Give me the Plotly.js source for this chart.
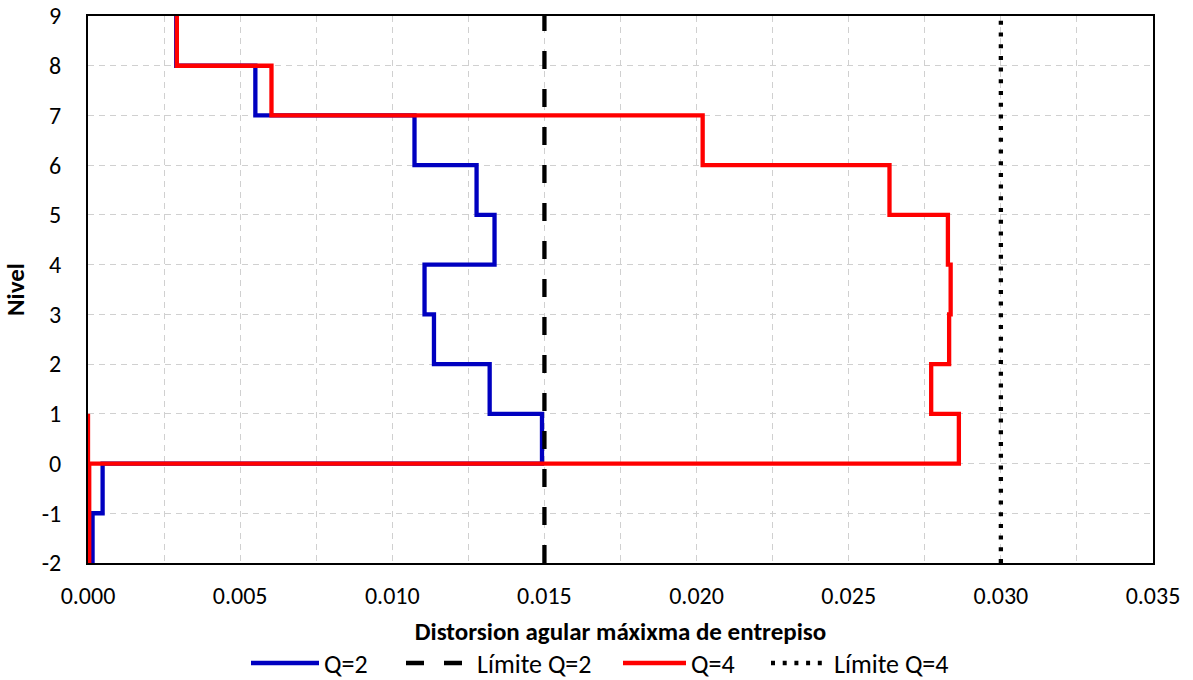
<!DOCTYPE html>
<html>
<head>
<meta charset="utf-8">
<script src="https://cdn.plot.ly/plotly-3.0.1.min.js"></script>
<style>html,body{margin:0;padding:0;background:#fff;}#chart{width:1193px;height:680px;}</style>
</head>
<body>
<div id="chart"></div>
<script>
// Step profile: levels and drifts (each storey drawn between two levels)
const levelsQ2 = [9, 8, 8, 7, 7, 6, 6, 5, 5, 4, 4, 3, 3, 2, 2, 1, 1, 0, 0, -1, -1, -2];
const driftQ2  = [0.0029, 0.0029, 0.0055, 0.0055, 0.01073, 0.01073, 0.01277, 0.01277, 0.01336, 0.01336, 0.01106, 0.01106, 0.01137, 0.01137, 0.0132, 0.0132, 0.01492, 0.01492, 0.00048, 0.00048, 0.00015, 0.00015];

const levelsQ4 = [9, 8, 8, 7, 7, 6, 6, 5, 5, 4, 4, 3, 3, 2, 2, 1, 1, 0, 0, -1, -1, -2, null, 0, 1];
const driftQ4  = [0.00292, 0.00292, 0.00603, 0.00603, 0.0202, 0.0202, 0.02634, 0.02634, 0.02826, 0.02826, 0.02835, 0.02835, 0.0283, 0.0283, 0.02771, 0.02771, 0.02862, 0.02862, 0.00004, 0.00004, 0.00004, 0.00004, null, 0.0, 0.0];

const limitLevels = [-2, 9];
const limitQ2 = [0.015, 0.015];
const limitQ4 = [0.030, 0.030];

const xTickVals = [0, 0.005, 0.01, 0.015, 0.02, 0.025, 0.03, 0.035];
const xTickText = ['0.000', '0.005', '0.010', '0.015', '0.020', '0.025', '0.030', '0.035'];
const yTickVals = [-2, -1, 0, 1, 2, 3, 4, 5, 6, 7, 8, 9];
const yTickText = ['-2', '-1', '0', '1', '2', '3', '4', '5', '6', '7', '8', '9'];

const FONT = 'Carlito, Lato, "Open Sans", sans-serif';
const LEGFONT = {family: FONT, size: 26, color: '#000'};
const LEGY = -0.183;

const traces = [
  {x: driftQ2, y: levelsQ2, mode: 'lines', name: 'Q=2', legend: 'legend', line: {color: '#0000C0', width: 4.3}},
  {x: limitQ2, y: limitLevels, mode: 'lines', name: 'Límite Q=2', legend: 'legend2', line: {color: '#000000', width: 4.3, dash: '18px,20px'}},
  {x: driftQ4, y: levelsQ4, mode: 'lines', name: 'Q=4', legend: 'legend3', line: {color: '#FF0000', width: 4.3}, connectgaps: false},
  {x: limitQ4, y: limitLevels, mode: 'lines', name: 'Límite Q=4', legend: 'legend4', line: {color: '#000000', width: 4.3, dash: '4px,7.7px'}}
];

function leg(xpx, w) {
  return {orientation: 'h', x: (xpx - 88) / 1065, xanchor: 'left', y: LEGY, yanchor: 'middle',
          font: LEGFONT, itemwidth: w, bgcolor: 'rgba(0,0,0,0)', borderwidth: 0};
}

const layout = {
  width: 1193, height: 680,
  margin: {l: 88, r: 40, t: 16, b: 117, autoexpand: false},
  paper_bgcolor: '#ffffff', plot_bgcolor: '#ffffff',
  font: {family: FONT, size: 24, color: '#000'},
  showlegend: true,
  legend: leg(246, 68),
  legend2: leg(401, 66),
  legend3: leg(618, 63),
  legend4: leg(766, 58),
  xaxis: {
    range: [0, 0.035], tickvals: xTickVals, ticktext: xTickText,
    showgrid: true, gridcolor: '#d0d0d0', griddash: '6px,5px', gridwidth: 1,
    minor: {dtick: 0.0025, showgrid: true, gridcolor: '#d0d0d0', griddash: '6px,5px', gridwidth: 1},
    showline: true, linecolor: '#000', linewidth: 2, mirror: true,
    zeroline: false, ticks: '', ticklabelstandoff: 10, automargin: false,
    tickfont: {family: FONT, size: 24},
    title: {text: '<b>Distorsion agular máxixma de entrepiso</b>', font: {family: FONT, size: 25}, standoff: 14}
  },
  yaxis: {
    range: [-2, 9], tickvals: yTickVals, ticktext: yTickText,
    showgrid: true, gridcolor: '#d0d0d0', griddash: '6px,5px', gridwidth: 1,
    showline: true, linecolor: '#000', linewidth: 2, mirror: true,
    zeroline: false, ticks: '', ticklabelstandoff: 20, automargin: false,
    tickfont: {family: FONT, size: 24},
    title: {text: '<b>Nivel</b>', font: {family: FONT, size: 25}, standoff: 20}
  }
};

Plotly.newPlot('chart', traces, layout, {displayModeBar: false, staticPlot: true});
</script>
</body>
</html>
